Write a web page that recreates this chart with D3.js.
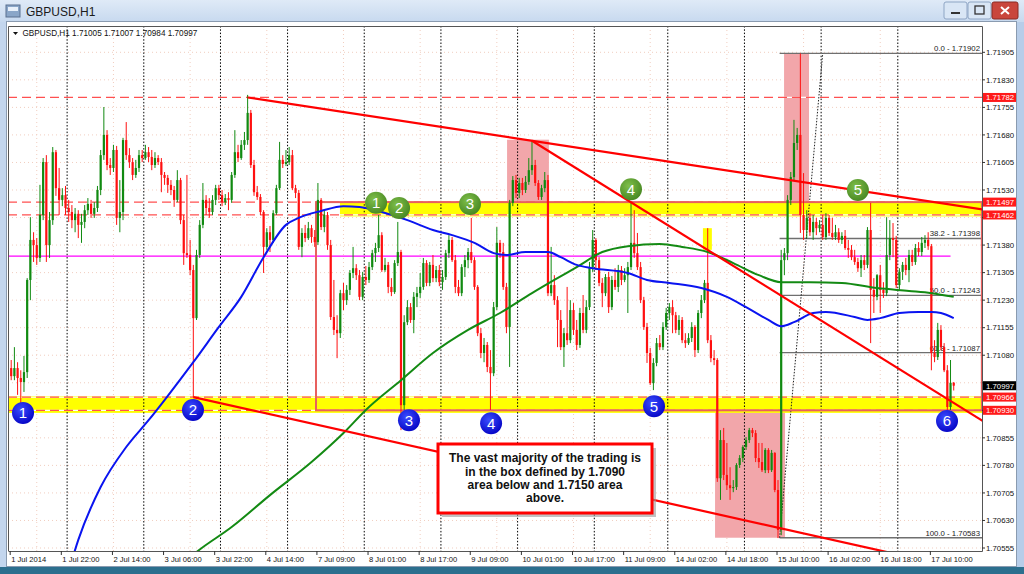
<!DOCTYPE html>
<html><head><meta charset="utf-8">
<script src="https://cdn.jsdelivr.net/npm/d3@7"></script>
<style>
html,body{margin:0;padding:0;background:#fff;overflow:hidden}
svg{display:block}
text{font-family:"Liberation Sans",Arial,sans-serif}
</style></head>
<body><svg id="c" width="1024" height="574"></svg>
<script>
// ---------------- DATA ----------------
const symbol = "GBPUSD,H1";
const sessions = [["1 Jul",6,23],["2 Jul",0,23],["3 Jul",0,23],["4 Jul",0,20],["7 Jul",0,23],["8 Jul",0,23],["9 Jul",0,23],["10 Jul",0,23],["11 Jul",0,22],["14 Jul",0,23],["15 Jul",0,23],["16 Jul",0,23],["17 Jul",0,17]];
// [open, high, low, close]
const candles = [
[1.71045,1.71067,1.71012,1.71023],[1.71023,1.71102,1.71012,1.71045],[1.71045,1.71061,1.70972,1.71018],[1.71018,1.71039,1.70931,1.71007],
[1.71007,1.71078,1.70980,1.71034],[1.71034,1.71290,1.71018,1.71285],[1.71285,1.71456,1.71230,1.71394],[1.71394,1.71415,1.71334,1.71380],
[1.71380,1.71399,1.71326,1.71345],[1.71345,1.71544,1.71334,1.71462],[1.71462,1.71617,1.71448,1.71606],[1.71606,1.71625,1.71334,1.71380],
[1.71380,1.71470,1.71345,1.71448],[1.71448,1.71647,1.71435,1.71633],[1.71633,1.71639,1.71514,1.71535],[1.71535,1.71590,1.71462,1.71503],
[1.71503,1.71535,1.71486,1.71516],[1.71516,1.71541,1.71462,1.71481],
[1.71481,1.71503,1.71443,1.71470],[1.71470,1.71489,1.71426,1.71448],[1.71448,1.71481,1.71415,1.71465],[1.71465,1.71475,1.71399,1.71435],
[1.71435,1.71465,1.71386,1.71443],[1.71443,1.71489,1.71426,1.71475],[1.71475,1.71508,1.71462,1.71492],[1.71492,1.71503,1.71454,1.71465],
[1.71465,1.71497,1.71454,1.71481],[1.71481,1.71541,1.71470,1.71530],[1.71530,1.71639,1.71516,1.71625],[1.71625,1.71756,1.71612,1.71680],
[1.71680,1.71693,1.71584,1.71598],[1.71598,1.71617,1.71571,1.71590],[1.71590,1.71653,1.71579,1.71639],[1.71639,1.71650,1.71435,1.71454],
[1.71454,1.71557,1.71415,1.71470],[1.71470,1.71672,1.71448,1.71666],[1.71666,1.71715,1.71612,1.71625],[1.71625,1.71644,1.71590,1.71606],
[1.71606,1.71617,1.71557,1.71571],[1.71571,1.71612,1.71563,1.71590],[1.71590,1.71639,1.71579,1.71625],[1.71625,1.71639,1.71606,1.71617],
[1.71617,1.71653,1.71612,1.71633],[1.71633,1.71647,1.71606,1.71620],[1.71620,1.71639,1.71584,1.71598],[1.71598,1.71633,1.71590,1.71617],
[1.71617,1.71625,1.71598,1.71606],[1.71606,1.71617,1.71524,1.71571],[1.71571,1.71579,1.71544,1.71563],[1.71563,1.71571,1.71522,1.71544],
[1.71544,1.71557,1.71516,1.71530],[1.71530,1.71541,1.71484,1.71503],[1.71503,1.71584,1.71497,1.71557],[1.71557,1.71563,1.71437,1.71448],
[1.71448,1.71462,1.71326,1.71358],[1.71358,1.71571,1.71345,1.71353],[1.71353,1.71394,1.71298,1.71312],[1.71312,1.71326,1.70966,1.71181],
[1.71181,1.71367,1.71176,1.71353],[1.71353,1.71448,1.71345,1.71435],[1.71435,1.71549,1.71426,1.71503],[1.71503,1.71516,1.71462,1.71481],
[1.71481,1.71508,1.71454,1.71470],[1.71470,1.71516,1.71462,1.71503],[1.71503,1.71544,1.71489,1.71535],[1.71535,1.71544,1.71503,1.71516],
[1.71516,1.71530,1.71486,1.71497],[1.71497,1.71519,1.71489,1.71508],[1.71508,1.71524,1.71475,1.71503],[1.71503,1.71579,1.71495,1.71571],
[1.71571,1.71693,1.71563,1.71633],[1.71633,1.71653,1.71606,1.71617],[1.71617,1.71666,1.71612,1.71653],[1.71653,1.71688,1.71639,1.71666],
[1.71666,1.71789,1.71653,1.71740],[1.71740,1.71748,1.71590,1.71598],[1.71598,1.71612,1.71514,1.71524],[1.71524,1.71541,1.71503,1.71511],
[1.71511,1.71519,1.71462,1.71470],[1.71470,1.71475,1.71304,1.71375],[1.71375,1.71426,1.71367,1.71415],[1.71415,1.71432,1.71361,1.71394],
[1.71394,1.71475,1.71386,1.71467],[1.71467,1.71544,1.71462,1.71535],[1.71535,1.71661,1.71530,1.71612],[1.71612,1.71625,1.71590,1.71601],
[1.71601,1.71639,1.71595,1.71606],
[1.71606,1.71647,1.71598,1.71625],[1.71625,1.71639,1.71530,1.71535],[1.71535,1.71544,1.71508,1.71522],[1.71522,1.71530,1.71367,1.71375],
[1.71375,1.71426,1.71347,1.71413],[1.71413,1.71435,1.71388,1.71399],[1.71399,1.71443,1.71394,1.71426],[1.71426,1.71435,1.71386,1.71402],
[1.71402,1.71421,1.71375,1.71388],[1.71388,1.71549,1.71380,1.71503],[1.71503,1.71508,1.71421,1.71429],[1.71429,1.71475,1.71415,1.71462],
[1.71462,1.71470,1.71367,1.71380],[1.71380,1.71394,1.71176,1.71184],[1.71184,1.71285,1.71135,1.71149],[1.71149,1.71189,1.71072,1.71140],
[1.71140,1.71258,1.71127,1.71249],[1.71249,1.71277,1.71203,1.71230],[1.71230,1.71271,1.71217,1.71258],[1.71258,1.71312,1.71244,1.71304],
[1.71304,1.71375,1.71290,1.71317],[1.71317,1.71328,1.71285,1.71298],[1.71298,1.71312,1.71230,1.71239],[1.71239,1.71307,1.71230,1.71293],
[1.71293,1.71323,1.71271,1.71285],[1.71285,1.71334,1.71277,1.71320],[1.71320,1.71367,1.71312,1.71358],[1.71358,1.71386,1.71334,1.71372],
[1.71372,1.71462,1.71361,1.71407],[1.71407,1.71415,1.71307,1.71312],[1.71312,1.71345,1.71307,1.71326],[1.71326,1.71334,1.71249,1.71266],
[1.71266,1.71290,1.71241,1.71252],[1.71252,1.71339,1.71247,1.71331],[1.71331,1.71443,1.71323,1.71361],[1.71361,1.71367,1.70876,1.70944],
[1.70944,1.71189,1.70931,1.71170],[1.71170,1.71230,1.71162,1.71211],[1.71211,1.71222,1.71168,1.71176],[1.71176,1.71252,1.71140,1.71239],
[1.71239,1.71266,1.71211,1.71249],[1.71249,1.71304,1.71236,1.71266],[1.71266,1.71345,1.71258,1.71331],[1.71331,1.71339,1.71268,1.71277],
[1.71277,1.71334,1.71268,1.71326],[1.71326,1.71353,1.71279,1.71290],[1.71290,1.71323,1.71279,1.71312],[1.71312,1.71326,1.71268,1.71279],
[1.71279,1.71312,1.71258,1.71293],[1.71293,1.71367,1.71285,1.71358],[1.71358,1.71407,1.71345,1.71394],[1.71394,1.71402,1.71334,1.71339],
[1.71339,1.71353,1.71249,1.71266],[1.71266,1.71285,1.71241,1.71249],[1.71249,1.71328,1.71241,1.71320],[1.71320,1.71353,1.71293,1.71339],
[1.71339,1.71372,1.71317,1.71361],[1.71361,1.71454,1.71331,1.71339],[1.71339,1.71347,1.71258,1.71266],[1.71266,1.71271,1.71132,1.71140],
[1.71140,1.71154,1.71072,1.71086],[1.71086,1.71127,1.71061,1.71108],[1.71108,1.71116,1.71034,1.71048],[1.71048,1.71094,1.70931,1.71031],
[1.71031,1.71225,1.71023,1.71211],[1.71211,1.71429,1.71203,1.71386],[1.71386,1.71394,1.71345,1.71361],[1.71361,1.71386,1.71258,1.71266],
[1.71266,1.71277,1.71140,1.71157],[1.71157,1.71503,1.71048,1.71495],[1.71495,1.71568,1.71486,1.71557],[1.71557,1.71571,1.71508,1.71522],
[1.71522,1.71563,1.71508,1.71549],[1.71549,1.71563,1.71516,1.71530],[1.71530,1.71568,1.71522,1.71552],[1.71552,1.71617,1.71544,1.71584],
[1.71584,1.71666,1.71571,1.71598],[1.71598,1.71612,1.71541,1.71549],[1.71549,1.71557,1.71503,1.71511],[1.71511,1.71544,1.71503,1.71535],
[1.71535,1.71579,1.71524,1.71557],[1.71557,1.71571,1.71241,1.71249],[1.71249,1.71375,1.71241,1.71271],[1.71271,1.71298,1.71217,1.71230],
[1.71230,1.71241,1.71102,1.71176],[1.71176,1.71203,1.71094,1.71102],[1.71102,1.71154,1.71048,1.71140],[1.71140,1.71266,1.71108,1.71121],
[1.71121,1.71230,1.71113,1.71203],[1.71203,1.71222,1.71135,1.71149],[1.71149,1.71176,1.71094,1.71108],[1.71108,1.71209,1.71100,1.71195],
[1.71195,1.71244,1.71140,1.71149],[1.71149,1.71230,1.71140,1.71211],[1.71211,1.71334,1.71203,1.71320],[1.71320,1.71421,1.71307,1.71394],
[1.71394,1.71399,1.71312,1.71339],[1.71339,1.71347,1.71268,1.71277],[1.71277,1.71290,1.71211,1.71249],[1.71249,1.71301,1.71241,1.71293],
[1.71293,1.71307,1.71195,1.71211],[1.71211,1.71296,1.71203,1.71285],[1.71285,1.71317,1.71258,1.71266],[1.71266,1.71326,1.71252,1.71312],
[1.71312,1.71323,1.71271,1.71285],[1.71285,1.71317,1.71279,1.71298],[1.71298,1.71334,1.71195,1.71320],[1.71320,1.71495,1.71312,1.71386],
[1.71386,1.71475,1.71345,1.71358],[1.71358,1.71413,1.71312,1.71320],[1.71320,1.71334,1.71222,1.71230],[1.71230,1.71239,1.71149,1.71157],
[1.71157,1.71168,1.71059,1.71086],[1.71086,1.71100,1.70999,1.71004],[1.71004,1.71072,1.70985,1.71059],[1.71059,1.71127,1.71050,1.71113],
[1.71113,1.71135,1.71094,1.71102],[1.71102,1.71170,1.71094,1.71157],[1.71157,1.71209,1.71149,1.71195],
[1.71195,1.71222,1.71176,1.71211],[1.71211,1.71230,1.71140,1.71189],[1.71189,1.71198,1.71140,1.71149],[1.71149,1.71189,1.71135,1.71176],
[1.71176,1.71184,1.71113,1.71121],[1.71121,1.71140,1.71100,1.71113],[1.71113,1.71140,1.71108,1.71127],[1.71127,1.71170,1.71116,1.71157],
[1.71157,1.71162,1.71075,1.71094],[1.71094,1.71203,1.71086,1.71195],[1.71195,1.71244,1.71181,1.71230],[1.71230,1.71285,1.71222,1.71277],
[1.71277,1.71426,1.71113,1.71121],[1.71121,1.71135,1.71061,1.71072],[1.71072,1.71094,1.71053,1.71067],[1.71067,1.71072,1.70735,1.70745],
[1.70745,1.70876,1.70686,1.70849],[1.70849,1.70882,1.70740,1.70754],[1.70754,1.70841,1.70713,1.70726],[1.70726,1.70775,1.70686,1.70718],
[1.70718,1.70740,1.70707,1.70721],[1.70721,1.70786,1.70713,1.70781],[1.70781,1.70808,1.70773,1.70800],[1.70800,1.70835,1.70789,1.70830],
[1.70830,1.70857,1.70822,1.70849],[1.70849,1.70882,1.70841,1.70876],[1.70876,1.70882,1.70857,1.70868],[1.70868,1.70876,1.70789,1.70800],
[1.70800,1.70841,1.70773,1.70789],[1.70789,1.70841,1.70762,1.70767],[1.70767,1.70827,1.70759,1.70822],[1.70822,1.70827,1.70759,1.70767],
[1.70767,1.70822,1.70762,1.70814],[1.70814,1.70816,1.70707,1.70713],[1.70713,1.70740,1.70582,1.70604],[1.70604,1.71367,1.70590,1.71339],
[1.71339,1.71372,1.71298,1.71358],[1.71358,1.71516,1.71339,1.71503],[1.71503,1.71579,1.71489,1.71565],[1.71565,1.71721,1.71557,1.71658],
[1.71658,1.71699,1.71639,1.71680],[1.71680,1.71902,1.71413,1.71462],[1.71462,1.71576,1.71394,1.71421],[1.71421,1.71475,1.71399,1.71454],
[1.71454,1.71467,1.71405,1.71415],[1.71415,1.71462,1.71394,1.71443],[1.71443,1.71454,1.71407,1.71426],[1.71426,1.71448,1.71415,1.71435],
[1.71435,1.71462,1.71394,1.71402],[1.71402,1.71467,1.71394,1.71454],[1.71454,1.71462,1.71405,1.71413],[1.71413,1.71454,1.71394,1.71402],
[1.71402,1.71435,1.71394,1.71415],[1.71415,1.71426,1.71386,1.71394],[1.71394,1.71415,1.71383,1.71405],[1.71405,1.71421,1.71367,1.71372],
[1.71372,1.71394,1.71345,1.71367],[1.71367,1.71380,1.71339,1.71347],[1.71347,1.71367,1.71326,1.71334],[1.71334,1.71345,1.71307,1.71317],
[1.71317,1.71353,1.71293,1.71339],[1.71339,1.71353,1.71312,1.71326],[1.71326,1.71429,1.71317,1.71421],[1.71421,1.71495,1.71113,1.71258],
[1.71258,1.71290,1.71195,1.71239],[1.71239,1.71301,1.71230,1.71298],[1.71298,1.71326,1.71195,1.71258],[1.71258,1.71279,1.71236,1.71249],
[1.71249,1.71456,1.71241,1.71353],[1.71353,1.71448,1.71339,1.71399],[1.71399,1.71440,1.71347,1.71394],[1.71394,1.71405,1.71263,1.71271],
[1.71271,1.71317,1.71258,1.71307],[1.71307,1.71334,1.71285,1.71326],[1.71326,1.71345,1.71298,1.71312],[1.71312,1.71367,1.71279,1.71353],
[1.71353,1.71367,1.71323,1.71334],[1.71334,1.71383,1.71326,1.71372],[1.71372,1.71388,1.71350,1.71361],[1.71361,1.71402,1.71350,1.71386],
[1.71386,1.71407,1.71372,1.71394],[1.71394,1.71415,1.71367,1.71377],[1.71377,1.71383,1.71039,1.71086],[1.71086,1.71121,1.71061,1.71075],
[1.71075,1.71168,1.71067,1.71149],[1.71149,1.71162,1.71094,1.71102],[1.71102,1.71113,1.71034,1.71039],[1.71039,1.71053,1.70931,1.70939],
[1.70939,1.71067,1.70931,1.71005],[1.71005,1.71007,1.70984,1.70997]
];
// moving averages: [bar index, price]
const maBlue = [[19,1.70522],[21,1.70577],[28,1.70721],[36,1.70830],[43,1.70903],[48,1.70958],[57,1.71061],[65,1.71157],[72,1.71239],[79,1.71347],[86,1.71435],[90,1.71454],[97,1.71473],[104,1.71486],[109,1.71484],[116,1.71470],[124,1.71448],[132,1.71421],[138,1.71407],[145,1.71386],[151,1.71358],[155,1.71353],[161,1.71361],[168,1.71361],[172,1.71347],[177,1.71326],[182,1.71317],[193,1.71304],[199,1.71285],[206,1.71277],[216,1.71263],[224,1.71239],[230,1.71211],[237,1.71176],[241,1.71159],[245,1.71170],[251,1.71195],[255,1.71198],[264,1.71184],[268,1.71176],[272,1.71181],[278,1.71195],[284,1.71198],[288,1.71198],[291,1.71195],[295,1.71181]];
const maGreen = [[55,1.70522],[58,1.70544],[69,1.70612],[81,1.70699],[94,1.70789],[104,1.70868],[111,1.70931],[122,1.71012],[132,1.71086],[143,1.71149],[153,1.71195],[163,1.71249],[170,1.71285],[177,1.71320],[185,1.71361],[193,1.71377],[203,1.71383],[210,1.71375],[218,1.71361],[226,1.71331],[234,1.71298],[241,1.71279],[250,1.71279],[260,1.71277],[271,1.71263],[281,1.71255],[288,1.71249],[295,1.71239]];
const priceTicks = [1.71905,1.71830,1.71755,1.71680,1.71605,1.71530,1.71455,1.71380,1.71305,1.71230,1.71155,1.71080,1.71005,1.70930,1.70855,1.70780,1.70705,1.70630,1.70555];
const timeTicks = ["1 Jul 2014","1 Jul 22:00","2 Jul 14:00","3 Jul 06:00","3 Jul 22:00","4 Jul 14:00","7 Jul 09:00","8 Jul 01:00","8 Jul 17:00","9 Jul 09:00","10 Jul 01:00","10 Jul 17:00","11 Jul 09:00","14 Jul 02:00","14 Jul 18:00","15 Jul 10:00","16 Jul 02:00","16 Jul 18:00","17 Jul 10:00"];
const dashedLevels = [1.71782,1.71497,1.71462,1.70966,1.70930];
const magentaLevel = 1.71350;
const axisMarks = [[1.71782,"red"],[1.71497,"red"],[1.71462,"red"],[1.70997,"black"],[1.70966,"red"],[1.70930,"red"]];
// trend lines: two anchors each [bar, price], extended to the right
const trendLines = [[[74,1.71782],[163,1.71664]],[[163,1.71664],[293,1.70961]],[[57,1.70966],[253,1.70585]]];
const fibLevels = ["0.0","38.2","50.0","61.8","100.0"];
const fibPrices = [1.71902,1.71398,1.71243,1.71087,1.70583];
const fibAnchor = [[241,1.70583],[254,1.71902]];
// zones [bar from, bar to, price top, price bottom]
const yellowZones = [[-1,304,1.70969,1.70923],[102.9,304,1.71497,1.71458],[216.5,219.3,1.71426,1.71367]];
const pinkZones = [[155.2,168.3,1.71667,1.71497],[220.3,242.2,1.70928,1.70583],[241.9,249.7,1.71902,1.71497]];
const boxZone = [95.4,303.8,1.71497,1.70930];
const greenMarks = [[114.2,1.71495,"1"],[121.4,1.71481,"2"],[143.6,1.71492,"3"],[194,1.71532,"4"],[265,1.71530,"5"]];
const blueMarks = [[3.7,1.70923,"1"],[56.9,1.70931,"2"],[124.5,1.70903,"3"],[150.2,1.70895,"4"],[201.2,1.70941,"5"],[292.9,1.70901,"6"]];
const noteLines = ["The vast majority of the trading is","in the box defined by 1.7090","area below and 1.7150 area","above."];

// ---------------- LAYOUT ----------------
const svg = d3.select("#c");
const P = {l:8, t:26, r:982, b:551};
const x = d3.scaleLinear().domain([0,295]).range([11.2, 11.2+295*3.195]);
const y = d3.scaleLinear().domain([1.70555,1.71905]).range([548,52.3]);
const times = [];
sessions.forEach(([d,h0,h1])=>{for(let h=h0;h<=h1;h++) times.push(d+" "+String(h).padStart(2,"0")+":00");});
const dayStarts = [];
times.forEach((t,i)=>{ if(i>0 && t.endsWith(" 00:00")) dayStarts.push(i); });

const defs = svg.append("defs");
defs.append("clipPath").attr("id","plotclip").append("rect").attr("x",P.l).attr("y",P.t).attr("width",P.r-P.l).attr("height",P.b-P.t);
const tg = defs.append("linearGradient").attr("id","tbar").attr("x1",0).attr("y1",0).attr("x2",0).attr("y2",1);
tg.append("stop").attr("offset","0%").attr("stop-color","#dfeaf7");
tg.append("stop").attr("offset","100%").attr("stop-color","#c7d9ef");
const gg = defs.append("radialGradient").attr("id","gball").attr("cx","40%").attr("cy","35%").attr("r","65%");
gg.append("stop").attr("offset","0%").attr("stop-color","#7fbf4a");
gg.append("stop").attr("offset","100%").attr("stop-color","#4a8a24");
const bg = defs.append("radialGradient").attr("id","bball").attr("cx","40%").attr("cy","35%").attr("r","65%");
bg.append("stop").attr("offset","0%").attr("stop-color","#3a4cff");
bg.append("stop").attr("offset","100%").attr("stop-color","#0808c8");

// window chrome
svg.append("rect").attr("width",1024).attr("height",574).attr("fill","#c3d6ee");
svg.append("rect").attr("width",1024).attr("height",22).attr("fill","url(#tbar)");
svg.append("rect").attr("x",6).attr("y",5).attr("width",14).attr("height",12).attr("fill","#8aa6c8").attr("stroke","#5a7090");
svg.append("rect").attr("x",8).attr("y",7).attr("width",10).attr("height",4).attr("fill","#e8f0fa");
svg.append("text").attr("x",26).attr("y",15.5).attr("font-size",12).attr("font-family","'DejaVu Sans',sans-serif").attr("fill","#1b1b1b").text(symbol);
const btn = [[944,"min"],[968,"max"]];
btn.forEach(([bx,k])=>{
  svg.append("rect").attr("x",bx).attr("y",2).attr("width",23).attr("height",17).attr("rx",2).attr("fill","#d9e6f5").attr("stroke","#8ea5c4");
  if(k==="min") svg.append("rect").attr("x",bx+7).attr("y",12).attr("width",9).attr("height",2).attr("fill","#333");
  else svg.append("rect").attr("x",bx+7).attr("y",6).attr("width",9).attr("height",8).attr("fill","none").attr("stroke","#333").attr("stroke-width",1.3);
});
svg.append("rect").attr("x",992).attr("y",2).attr("width",26).attr("height",17).attr("rx",2).attr("fill","#c9463d").attr("stroke","#8a2a24");
svg.append("path").attr("d","M1001,7 L1009,14 M1009,7 L1001,14").attr("stroke","#fff").attr("stroke-width",2);
svg.append("rect").attr("x",6.5).attr("y",21.5).attr("width",1010).attr("height",545).attr("fill","#ffffff").attr("stroke","#8a9bb0");
svg.append("rect").attr("x",0).attr("y",567).attr("width",1024).attr("height",7).attr("fill","#2c6f8e");
svg.append("rect").attr("x",1017).attr("y",22).attr("width",7).attr("height",545).attr("fill","#b7cde9");

const plot = svg.append("g").attr("clip-path","url(#plotclip)");

// grid
priceTicks.forEach(p=>plot.append("line").attr("x1",P.l).attr("x2",P.r).attr("y1",y(p)).attr("y2",y(p)).attr("stroke","#f1cdbf").attr("stroke-dasharray","1,3"));
for(let i=8;i<times.length;i+=24) plot.append("line").attr("x1",x(i)).attr("x2",x(i)).attr("y1",P.t).attr("y2",P.b).attr("stroke","#f1cdbf").attr("stroke-dasharray","1,3");

// zones
const zoneRect = (g,z,fill)=>g.append("rect").attr("x",x(z[0])).attr("width",x(z[1])-x(z[0])).attr("y",y(z[2])).attr("height",y(z[3])-y(z[2])).attr("fill",fill);
pinkZones.forEach(z=>zoneRect(plot,z,"#f2a6aa"));
yellowZones.forEach(z=>zoneRect(plot,z,"#ffff00"));

// period separators
dayStarts.forEach(i=>plot.append("line").attr("x1",x(i)-1.6).attr("x2",x(i)-1.6).attr("y1",P.t).attr("y2",P.b).attr("stroke","#000").attr("stroke-width",1).attr("stroke-dasharray","1.5,1.8"));

// horizontal levels
dashedLevels.forEach(p=>{
  plot.append("line").attr("x1",P.l).attr("x2",P.r).attr("y1",y(p)).attr("y2",y(p)).attr("stroke","#ffffff").attr("stroke-width",1.2);
  plot.append("line").attr("x1",P.l).attr("x2",P.r).attr("y1",y(p)).attr("y2",y(p)).attr("stroke","#ff5050").attr("stroke-width",1.3).attr("stroke-dasharray","9,5");
});
plot.append("line").attr("x1",P.l).attr("x2",x(294)).attr("y1",y(magentaLevel)).attr("y2",y(magentaLevel)).attr("stroke","#ff00ff").attr("stroke-width",1.2);

// fibonacci
const fx0 = x(fibAnchor[0][0])-1.6;
fibPrices.forEach((p,k)=>{
  plot.append("line").attr("x1",fx0).attr("x2",P.r).attr("y1",y(p)).attr("y2",y(p)).attr("stroke","#6f6f6f").attr("stroke-width",1.4);
  plot.append("text").attr("x",P.r-2).attr("y",y(p)-2).attr("text-anchor","end").attr("font-size",7.8).attr("fill","#222").text(fibLevels[k]+" - "+p.toFixed(5));
});
plot.append("line").attr("x1",fx0).attr("y1",y(fibAnchor[0][1])).attr("x2",x(fibAnchor[1][0])).attr("y2",y(fibAnchor[1][1])).attr("stroke","#222").attr("stroke-width",1).attr("stroke-dasharray","1.5,1.5");

// red box
plot.append("rect").attr("x",x(boxZone[0])).attr("y",y(boxZone[2])).attr("width",x(boxZone[1])-x(boxZone[0])).attr("height",y(boxZone[3])-y(boxZone[2])).attr("fill","none").attr("stroke","#e8605e").attr("stroke-width",2);

// candles
const cg = plot.append("g");
candles.forEach((c,i)=>{
  const [o,h,l,cl] = c;
  const col = cl>=o ? "#118a11" : "#ff1010";
  const cx = x(i);
  cg.append("line").attr("x1",cx).attr("x2",cx).attr("y1",y(h)).attr("y2",y(l)).attr("stroke",col).attr("stroke-width",1);
  const yt = Math.min(y(o),y(cl)), yb = Math.max(y(o),y(cl));
  cg.append("rect").attr("x",cx-1.1).attr("width",2.2).attr("y",yt).attr("height",Math.max(1,yb-yt)).attr("fill",col);
});

// moving averages
const maLine = d3.line().x(d=>x(d[0])).y(d=>y(d[1])).curve(d3.curveMonotoneX);
plot.append("path").attr("d",maLine(maGreen)).attr("fill","none").attr("stroke","#138a13").attr("stroke-width",2);
plot.append("path").attr("d",maLine(maBlue)).attr("fill","none").attr("stroke","#0a14f0").attr("stroke-width",2);

// trend lines (rays to the right)
trendLines.forEach(([a,b])=>{
  const x1=x(a[0]),y1=y(a[1]),x2=x(b[0]),y2=y(b[1]);
  const s=(y2-y1)/(x2-x1), xe=P.r+5;
  plot.append("line").attr("x1",x1).attr("y1",y1).attr("x2",xe).attr("y2",y1+s*(xe-x1)).attr("stroke","#ff0000").attr("stroke-width",2.2);
});

// markers
const mark=(arr,fill)=>arr.forEach(([i,p,t])=>{
  const g=plot.append("g").attr("transform",`translate(${x(i)},${y(p)})`);
  g.append("circle").attr("r",11).attr("fill",fill);
  g.append("text").attr("y",5.5).attr("text-anchor","middle").attr("font-size",15).attr("font-family","'DejaVu Sans',sans-serif").attr("fill","#fff").text(t);
});
mark(greenMarks,"url(#gball)");
mark(blueMarks,"url(#bball)");

// note box
const nb={x:438,y:444,w:214,h:69};
svg.append("rect").attr("x",nb.x+4).attr("y",nb.y+4).attr("width",nb.w).attr("height",nb.h).attr("fill","#9a9a9a").attr("opacity",0.6);
svg.append("rect").attr("x",nb.x).attr("y",nb.y).attr("width",nb.w).attr("height",nb.h).attr("fill","#fff").attr("stroke","#ff0000").attr("stroke-width",3);
noteLines.forEach((t,k)=>svg.append("text").attr("x",nb.x+nb.w/2).attr("y",[462,475.5,489,502][k]).attr("text-anchor","middle").attr("font-size",12).attr("font-weight","bold").attr("fill","#111").text(t));

// frame + axes
svg.append("path").attr("d",`M${P.l+0.5},${P.b} V${P.t+0.5} H${P.r+0.5} V${P.b+0.5} H${P.l+0.5}`).attr("fill","none").attr("stroke","#555").attr("stroke-width",1);
const markYs = axisMarks.map(m=>y(m[0]));
priceTicks.forEach(p=>{
  svg.append("line").attr("x1",P.r).attr("x2",P.r+3).attr("y1",y(p)).attr("y2",y(p)).attr("stroke","#333");
  // labels covered by a price box are hidden, as in the terminal
  if(markYs.some(my=>Math.abs(my-y(p))<9)) return;
  svg.append("text").attr("x",P.r+4).attr("y",y(p)+2.8).attr("font-size",7.8).attr("fill","#111").text(p.toFixed(5));
});
axisMarks.forEach(([p,c])=>{
  svg.append("rect").attr("x",P.r+1).attr("y",y(p)-4.5).attr("width",33).attr("height",9).attr("fill",c==="red"?"#ff1a1a":"#000");
  svg.append("text").attr("x",P.r+4).attr("y",y(p)+2.8).attr("font-size",7.8).attr("fill","#fff").text(p.toFixed(5));
});
timeTicks.forEach((t,k)=>{
  const i = k===0 ? 0 : times.indexOf(t);
  svg.append("line").attr("x1",x(i)-1).attr("x2",x(i)-1).attr("y1",P.b).attr("y2",P.b+4).attr("stroke","#333");
  svg.append("text").attr("x",x(i)).attr("y",P.b+10.5).attr("font-size",7.6).attr("fill","#111").text(t);
});
// chart header
const last = candles[candles.length-1];
svg.append("path").attr("d","M13,32 h5 l-2.5,3 z").attr("fill","#111");
svg.append("text").attr("x",22.5).attr("y",36).attr("font-size",8.2).attr("fill","#111").text(symbol+"  "+last.map(v=>v.toFixed(5)).join(" "));
</script></body></html>
